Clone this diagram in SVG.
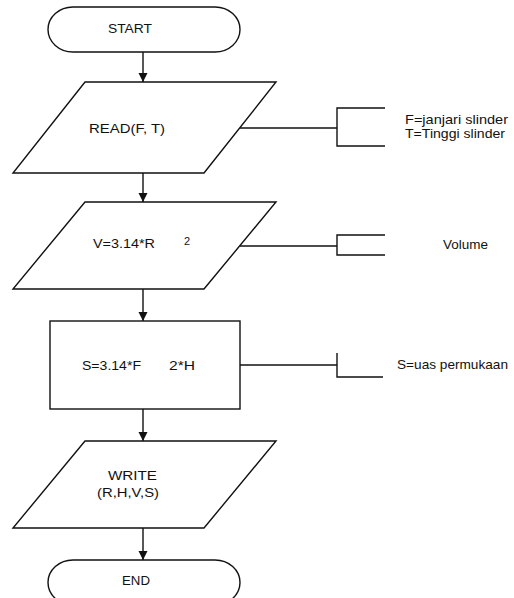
<svg xmlns="http://www.w3.org/2000/svg" width="514" height="598" viewBox="0 0 514 598">
<defs>
<style>
.shape{fill:#fff;stroke:#111;stroke-width:1.4}
.line{fill:none;stroke:#111;stroke-width:1.4}
.t{font-family:"Liberation Sans",Arial,sans-serif;font-size:13px;fill:#111}
</style>
<marker id="arr" markerWidth="10" markerHeight="10" refX="9" refY="5" orient="auto" markerUnits="userSpaceOnUse">
<path d="M0,0.5 L9,5 L0,9.5 Z" fill="#111"/>
</marker>
</defs>
<rect width="514" height="598" fill="#fff"/>
<g id="connectors">
<line class="line" x1="143" y1="52" x2="143" y2="82" marker-end="url(#arr)"/>
<line class="line" x1="143" y1="173" x2="143" y2="202" marker-end="url(#arr)"/>
<line class="line" x1="143" y1="289" x2="143" y2="321" marker-end="url(#arr)"/>
<line class="line" x1="143" y1="409" x2="143" y2="441" marker-end="url(#arr)"/>
<line class="line" x1="143" y1="528" x2="143" y2="560" marker-end="url(#arr)"/>
<line class="line" x1="240" y1="128" x2="337" y2="128"/>
<line class="line" x1="240" y1="246" x2="337" y2="246"/>
<line class="line" x1="240" y1="365" x2="337" y2="365"/>
</g>
<g id="start">
<path class="shape" d="M73,7 H215 A25,22.5 0 0 1 215,52 H73 A25,22.5 0 0 1 73,7 Z"/>
<text class="t" x="108" y="33" textLength="44" lengthAdjust="spacingAndGlyphs">START</text>
</g>
<g id="read">
<polygon class="shape" points="85,82 276,82 204,173 13,173"/>
<text class="t" x="89" y="133" textLength="76" lengthAdjust="spacingAndGlyphs">READ(F, T)</text>
</g>
<g id="note-read">
<path class="line" d="M385,108 H337 V146 H385"/>
<text class="t" x="405" y="124" textLength="103" lengthAdjust="spacingAndGlyphs">F=janjari slinder</text>
<text class="t" x="405" y="138" textLength="100" lengthAdjust="spacingAndGlyphs">T=Tinggi slinder</text>
</g>
<g id="volume">
<polygon class="shape" points="85,202 276,202 204,289 13,289"/>
<text class="t" x="93" y="248" textLength="62" lengthAdjust="spacingAndGlyphs">V=3.14*R</text>
<text class="t" x="184" y="245" style="font-size:11px">2</text>
</g>
<g id="note-volume">
<path class="line" d="M385,235 H337 V255 H385"/>
<text class="t" x="443" y="249" textLength="45" lengthAdjust="spacingAndGlyphs">Volume</text>
</g>
<g id="surface">
<rect class="shape" x="50" y="321" width="190" height="88"/>
<text class="t" x="82" y="370" textLength="59" lengthAdjust="spacingAndGlyphs">S=3.14*F</text>
<text class="t" x="169" y="370" textLength="26" lengthAdjust="spacingAndGlyphs">2*H</text>
</g>
<g id="note-surface">
<path class="line" d="M337,353 V377 H383"/>
<text class="t" x="397" y="369" textLength="111" lengthAdjust="spacingAndGlyphs">S=uas permukaan</text>
</g>
<g id="write">
<polygon class="shape" points="85,441 276,441 204,528 13,528"/>
<text class="t" x="108" y="480" textLength="49" lengthAdjust="spacingAndGlyphs">WRITE</text>
<text class="t" x="97" y="497" textLength="62" lengthAdjust="spacingAndGlyphs">(R,H,V,S)</text>
</g>
<g id="end">
<path class="shape" d="M73,560 H215 A25,22.5 0 0 1 215,605 H73 A25,22.5 0 0 1 73,560 Z"/>
<text class="t" x="122" y="585" textLength="28" lengthAdjust="spacingAndGlyphs">END</text>
</g>
</svg>
